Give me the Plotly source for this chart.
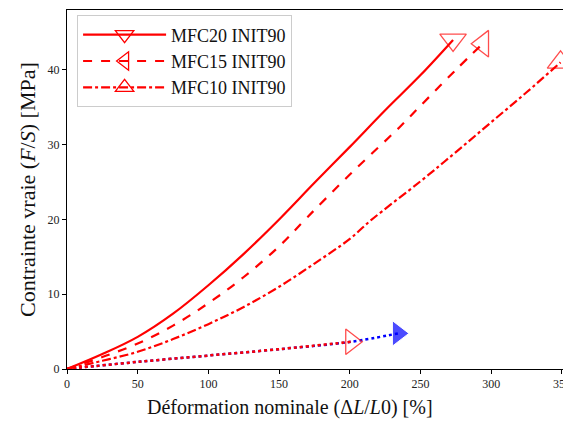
import plotly.graph_objects as go

# MFC20 INIT90 (solid)
x_mfc20 = [0, 25, 50, 75, 100, 125, 150, 175, 200, 225, 250, 273]
y_mfc20 = [0, 2.0, 4.3, 7.4, 11.2, 15.4, 20.0, 24.9, 29.7, 34.6, 39.3, 44.0]

# MFC15 INIT90 (dashed)
x_mfc15 = [0, 25, 50, 75, 100, 125, 150, 170, 200, 235, 250, 275, 294]
y_mfc15 = [0, 1.6, 3.4, 5.8, 8.8, 12.3, 16.4, 20.3, 26.0, 32.3, 35.2, 40.0, 43.5]

# MFC10 INIT90 (dash-dot)
x_mfc10 = [0, 25, 50, 75, 100, 125, 150, 175, 200, 215, 250, 275, 300, 325, 349]
y_mfc10 = [0, 1.1, 2.3, 4.0, 6.0, 8.3, 11.0, 14.1, 17.4, 19.9, 25.1, 29.0, 33.0, 37.0, 41.0]

# dotted curves (no legend)
x_red_dot = [0, 10, 50, 100, 150, 201]
y_red_dot = [0, 0.2, 0.95, 1.8, 2.65, 3.64]
x_blue_dot = [0, 10, 50, 100, 150, 201, 234]
y_blue_dot = [0, 0.2, 0.95, 1.8, 2.65, 3.64, 4.76]

RED = "#ff0000"
FONT = "Liberation Serif, Times New Roman, serif"

# the page body adds an 8px margin, so the figure is drawn 8px smaller
W, H = 563, 423
ML, MT, MB = 59, 2, 62


def end_sizes(n, size):
    # marker only on the last point
    return [0] * (n - 1) + [size]


fig = go.Figure()

fig.add_trace(go.Scatter(
    x=x_blue_dot, y=y_blue_dot, mode="lines+markers", showlegend=False,
    line=dict(color="#0000ff", width=2.5, dash="dot", shape="spline"),
    marker=dict(symbol="triangle-right", size=end_sizes(len(x_blue_dot), 22), color="#0000ff"),
))
fig.add_trace(go.Scatter(
    x=x_red_dot, y=y_red_dot, mode="lines+markers", showlegend=False,
    line=dict(color=RED, width=2.5, dash="dot", shape="spline"),
    marker=dict(symbol="triangle-right-open", size=end_sizes(len(x_red_dot), 22),
                color=RED, line=dict(width=1.3, color=RED)),
))

series = [
    ("MFC20 INIT90", x_mfc20, y_mfc20, "solid", "triangle-down-open"),
    ("MFC15 INIT90", x_mfc15, y_mfc15, "dash", "triangle-left-open"),
    ("MFC10 INIT90", x_mfc10, y_mfc10, "dashdot", "triangle-up-open"),
]
for name, xs, ys, dash, sym in series:
    fig.add_trace(go.Scatter(
        x=xs, y=ys, mode="lines+markers", name=name, legendgroup=name, showlegend=False,
        line=dict(color=RED, width=2.2, dash=dash, shape="spline"),
        marker=dict(symbol=sym, size=end_sizes(len(xs), 23), color=RED,
                    line=dict(width=1.3, color=RED)),
    ))
    # empty trace carrying the legend entry (line + one marker)
    fig.add_trace(go.Scatter(
        x=[None], y=[None], mode="lines+markers", name=name, legendgroup=name,
        line=dict(color=RED, width=2.2, dash=dash),
        marker=dict(symbol=sym, size=16, color=RED, line=dict(width=1.3, color=RED)),
    ))

axis_common = dict(
    showline=True, linecolor="black", linewidth=1, mirror=True,
    showgrid=False, zeroline=False,
    ticks="outside", ticklen=4, tickcolor="black",
    tickfont=dict(family=FONT, size=12, color="#222"),
)

plot_w = W - ML
plot_h = H - MT - MB

fig.update_layout(
    width=W, height=H,
    margin=dict(l=ML, r=0, t=MT, b=MB),
    plot_bgcolor="white", paper_bgcolor="white",
    font=dict(family=FONT, color="#111"),
    xaxis=dict(range=[0, 356.4], tickvals=[0, 50, 100, 150, 200, 250, 300, 350], **axis_common),
    yaxis=dict(range=[0, 48], tickvals=[0, 10, 20, 30, 40], **axis_common),
    legend=dict(
        x=0.02, y=0.985, xanchor="left", yanchor="top",
        bgcolor="white", bordercolor="#cccccc", borderwidth=1,
        font=dict(family=FONT, size=18, color="#111"),
        itemwidth=83, tracegroupgap=0,
    ),
    annotations=[
        dict(text="Déformation nominale (Δ<i>L</i>/<i>L</i>0) [%]",
             x=(290 - 67) / plot_w, y=-(407 - 369) / plot_h,
             xref="paper", yref="paper", xanchor="center", yanchor="middle",
             showarrow=False, font=dict(family=FONT, size=20, color="#111")),
        dict(text="Contrainte vraie (<i>F</i>/<i>S</i>) [MPa]",
             x=-(67 - 27) / plot_w, y=(369 - 190) / plot_h, textangle=-90,
             xref="paper", yref="paper", xanchor="center", yanchor="middle",
             showarrow=False, font=dict(family=FONT, size=22, color="#111")),
    ],
)

fig.write_html("out.html")
